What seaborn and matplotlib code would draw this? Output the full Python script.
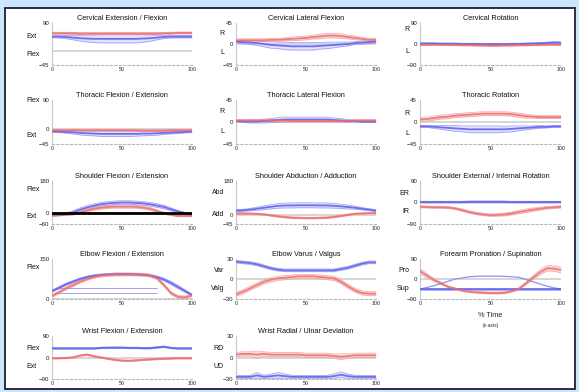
import numpy as np
import pandas as pd
import matplotlib
matplotlib.use("Agg")
import matplotlib.pyplot as plt
import seaborn as sns
from matplotlib.patches import Rectangle

sns.set_theme(style="white")
plt.rcParams['font.family'] = ['Liberation Sans', 'DejaVu Sans']

# ---------------- data ----------------
pct_time = [0, 5, 10, 15, 20, 25, 30, 35, 40, 45, 50, 55, 60, 65, 70, 75, 80, 85, 90, 95, 100]
x_ticks = [0, 50, 100]

cerv_ext_red = [57, 57, 57, 57, 56, 56, 56, 56, 56, 56, 56, 56, 56, 56, 56, 56, 57, 57, 58, 58, 58]
cerv_ext_red_sd = [3, 3, 3, 3, 3, 3, 3, 3, 3, 3, 3, 3, 3, 3, 3, 3, 3, 3, 3, 3, 3]
cerv_ext_blue = [46, 46, 45, 43, 41, 40, 39, 39, 39, 39, 39, 39, 39, 40, 41, 43, 45, 46, 46, 46, 46]
cerv_ext_blue_sd = [4, 4, 5, 7, 9, 11, 12, 13, 13, 13, 13, 13, 13, 12, 10, 7, 5, 4, 4, 4, 4]

cerv_lat_red = [8, 8, 8, 8, 8, 9, 9, 10, 11, 12, 13, 15, 16, 18, 18, 17, 15, 13, 11, 9, 9]
cerv_lat_red_sd = [3, 3, 3, 3, 3, 3, 3, 3, 4, 4, 4, 4, 5, 5, 5, 5, 4, 4, 3, 3, 3]
cerv_lat_blue = [5, 4, 3, 2, 0, -2, -3, -4, -5, -5, -5, -5, -4, -3, -2, -1, 0, 2, 3, 4, 5]
cerv_lat_blue_sd = [3, 3, 4, 5, 6, 7, 7, 8, 8, 8, 8, 8, 7, 7, 6, 5, 4, 3, 3, 3, 3]

cerv_rot_red = [-3, -3, -3, -3, -4, -4, -5, -5, -6, -6, -7, -7, -6, -6, -5, -5, -4, -4, -3, -3, -3]
cerv_rot_red_sd = [3, 3, 3, 3, 3, 3, 3, 3, 3, 3, 3, 3, 3, 3, 3, 3, 3, 3, 3, 3, 3]
cerv_rot_blue = [2, 2, 2, 1, 1, 1, 0, 0, 0, -1, -1, -1, -1, 0, 0, 1, 2, 3, 4, 6, 5]
cerv_rot_blue_sd = [3, 3, 3, 3, 3, 3, 3, 3, 3, 3, 3, 3, 3, 3, 3, 3, 3, 3, 4, 4, 4]

thor_flex_red = [-3, -3, -3, -3, -3, -3, -3, -3, -3, -3, -3, -3, -3, -4, -4, -4, -4, -3, -3, -3, -3]
thor_flex_red_sd = [2, 2, 2, 2, 2, 2, 2, 2, 2, 2, 2, 2, 2, 2, 2, 2, 2, 2, 2, 2, 2]
thor_flex_blue = [-6, -7, -8, -9, -11, -12, -13, -14, -14, -14, -14, -14, -14, -13, -13, -12, -11, -10, -9, -8, -7]
thor_flex_blue_sd = [3, 3, 4, 5, 6, 7, 7, 8, 8, 8, 8, 8, 7, 7, 6, 6, 5, 4, 4, 3, 3]

thor_lat_red = [3, 3, 3, 3, 3, 3, 3, 3, 2, 2, 2, 2, 2, 2, 2, 2, 2, 2, 3, 3, 3]
thor_lat_red_sd = [2, 2, 2, 2, 2, 2, 2, 2, 2, 2, 2, 2, 2, 2, 2, 2, 2, 2, 2, 2, 2]
thor_lat_blue = [2, 1, 1, 1, 2, 3, 4, 5, 5, 5, 5, 5, 5, 5, 4, 3, 2, 2, 1, 1, 1]
thor_lat_blue_sd = [2, 2, 3, 3, 4, 4, 5, 5, 5, 5, 5, 5, 5, 5, 4, 4, 3, 3, 2, 2, 2]

thor_rot_red = [5, 6, 8, 10, 11, 13, 14, 15, 16, 17, 17, 17, 17, 16, 14, 12, 11, 10, 10, 10, 10]
thor_rot_red_sd = [4, 4, 4, 4, 4, 4, 4, 4, 4, 4, 4, 4, 4, 4, 4, 4, 3, 3, 3, 3, 3]
thor_rot_blue = [-9, -9, -10, -11, -12, -13, -14, -15, -15, -15, -15, -15, -15, -14, -13, -12, -11, -10, -10, -9, -9]
thor_rot_blue_sd = [2, 2, 3, 4, 5, 6, 6, 7, 7, 7, 7, 7, 6, 6, 5, 4, 3, 3, 2, 2, 2]

sh_flex_red = [-12, -10, -8, -5, 5, 15, 25, 31, 35, 37, 37, 37, 36, 32, 25, 12, 0, -8, -15, -15, -15]
sh_flex_red_sd = [4, 4, 4, 5, 6, 7, 8, 8, 8, 8, 8, 8, 8, 8, 8, 7, 6, 5, 4, 4, 4]
sh_flex_blue = [-12, -10, -5, 5, 20, 32, 42, 50, 55, 58, 60, 60, 58, 55, 50, 43, 35, 22, 10, 0, -10]
sh_flex_blue_sd = [4, 5, 6, 8, 10, 10, 10, 10, 10, 10, 10, 10, 10, 10, 10, 10, 10, 8, 6, 5, 4]

sh_abd_red = [10, 10, 9, 8, 5, 0, -5, -9, -12, -13, -14, -14, -13, -12, -8, -3, 3, 8, 10, 12, 12]
sh_abd_red_sd = [4, 4, 4, 4, 4, 4, 4, 4, 4, 4, 4, 4, 4, 4, 4, 4, 4, 4, 4, 4, 4]
sh_abd_blue = [25, 27, 30, 35, 40, 45, 50, 52, 52, 53, 53, 53, 52, 52, 50, 47, 44, 40, 35, 30, 25]
sh_abd_blue_sd = [5, 5, 6, 8, 10, 11, 12, 13, 13, 13, 13, 13, 13, 13, 12, 11, 10, 8, 6, 5, 5]

sh_rot_red = [-18, -19, -20, -20, -21, -25, -32, -40, -46, -50, -53, -52, -50, -46, -40, -35, -30, -26, -22, -20, -18]
sh_rot_red_sd = [4, 4, 4, 4, 4, 4, 5, 5, 5, 5, 5, 5, 6, 6, 7, 7, 7, 6, 5, 5, 5]
sh_rot_blue = [2, 2, 2, 2, 2, 2, 2, 3, 3, 3, 3, 3, 3, 2, 2, 2, 2, 2, 2, 2, 2]
sh_rot_blue_sd = [3, 3, 3, 3, 3, 3, 3, 3, 3, 3, 3, 3, 3, 3, 3, 3, 3, 3, 3, 3, 3]

elb_flex_red = [12, 25, 40, 52, 65, 75, 83, 88, 90, 92, 92, 92, 92, 91, 88, 78, 52, 22, 8, 6, 14]
elb_flex_red_sd = [5, 5, 5, 5, 5, 5, 5, 5, 5, 5, 5, 5, 5, 5, 5, 5, 5, 5, 5, 5, 5]
elb_flex_blue = [30, 42, 55, 65, 75, 82, 87, 90, 92, 93, 93, 93, 92, 91, 88, 82, 73, 60, 45, 30, 15]
elb_flex_blue_sd = [4, 4, 4, 4, 4, 4, 4, 4, 4, 4, 4, 4, 4, 4, 4, 4, 5, 6, 6, 5, 4]
elb_flex_blue_ref_lines = [41, 24]
elb_flex_ref_span = [3, 75]

elb_var_red = [-23, -19, -14, -9, -4, -1, 1, 2, 3, 4, 4, 4, 3, 2, 1, -4, -11, -17, -21, -22, -22]
elb_var_red_sd = [3, 3, 3, 3, 3, 3, 3, 3, 3, 3, 3, 3, 3, 3, 3, 3, 3, 3, 3, 3, 3]
elb_var_blue = [26, 25, 24, 22, 19, 16, 14, 13, 13, 13, 13, 13, 13, 13, 13, 15, 17, 20, 23, 25, 25]
elb_var_blue_sd = [2, 2, 2, 2, 2, 2, 2, 2, 2, 2, 2, 2, 2, 2, 2, 2, 2, 2, 2, 2, 2]

fore_red = [35, 15, -5, -20, -35, -44, -52, -57, -60, -62, -63, -63, -62, -55, -45, -20, 5, 30, 48, 47, 40]
fore_red_sd = [12, 9, 6, 5, 4, 4, 4, 4, 4, 4, 4, 4, 4, 4, 5, 6, 8, 11, 12, 12, 12]
fore_blue = [-46, -46, -46, -46, -46, -46, -46, -46, -46, -46, -46, -46, -46, -46, -46, -46, -46, -46, -46, -46, -46]
fore_blue_sd = [2, 2, 2, 2, 2, 2, 2, 2, 2, 2, 2, 2, 2, 2, 2, 2, 2, 2, 2, 2, 2]
fore_blue_upper = [-45, -38, -30, -20, -10, 0, 5, 10, 12, 13, 13, 13, 12, 10, 8, -2, -12, -22, -32, -40, -45]

wr_flex_red = [-3, -3, -2, 0, 8, 12, 5, 0, -5, -10, -13, -14, -12, -10, -8, -6, -5, -4, -3, -3, -3]
wr_flex_red_sd = [3, 3, 3, 3, 3, 3, 3, 3, 3, 3, 3, 3, 3, 3, 3, 3, 3, 3, 3, 3, 3]
wr_flex_blue = [38, 38, 38, 38, 38, 38, 38, 40, 41, 41, 41, 40, 40, 39, 39, 42, 45, 40, 38, 38, 38]
wr_flex_blue_sd = [3, 3, 3, 3, 3, 3, 3, 3, 3, 3, 3, 3, 3, 3, 3, 3, 3, 3, 3, 3, 3]

wr_rad_red = [4, 5, 5, 4, 5, 4, 4, 4, 4, 4, 3, 3, 3, 3, 2, 1, 2, 3, 3, 3, 3]
wr_rad_red_sd = [3, 3, 3, 5, 3, 3, 3, 3, 3, 3, 3, 3, 3, 3, 3, 4, 3, 3, 3, 3, 3]
wr_rad_blue = [-27, -27, -27, -25, -27, -26, -25, -26, -27, -27, -27, -27, -27, -27, -26, -24, -26, -27, -27, -27, -27]
wr_rad_blue_sd = [2, 2, 2, 4, 2, 3, 4, 3, 2, 2, 2, 2, 2, 2, 3, 4, 3, 2, 2, 2, 2]

titles = ["Cervical Extension / Flexion", "Cervical Lateral Flexion", "Cervical Rotation",
          "Thoracic Flexion / Extension", "Thoracic Lateral Flexion", "Thoracic Rotation",
          "Shoulder Flexion / Extension", "Shoulder Abduction / Adduction", "Shoulder External / Internal Rotation",
          "Elbow Flexion / Extension", "Elbow Varus / Valgus", "Forearm Pronation / Supination",
          "Wrist Flexion / Extension", "Wrist Radial / Ulnar Deviation"]
y_limits = [(-45, 90), (-45, 45), (-90, 90),
            (-45, 90), (-45, 45), (-45, 45),
            (-60, 180), (-45, 180), (-90, 90),
            (0, 150), (-30, 30), (-90, 90),
            (-90, 90), (-30, 30)]
y_ticks = [[90, -45], [45, 0, -45], [90, 0, -90],
           [90, 0, -45], [45, 0, -45], [45, 0, -45],
           [180, 0, -60], [180, 0, -45], [90, 0, -90],
           [150, 0], [30, 0, -30], [90, 0, -90],
           [90, 0, -90], [30, 0, -30]]
side_labels = [[("Ext", 0.67), ("Flex", 0.26)], [("R", 0.76), ("L", 0.29)], [("R", 0.85), ("L", 0.32)],
               [("Flex", 1.0), ("Ext", 0.2)], [("R", 0.73), ("L", 0.28)], [("R", 0.7), ("L", 0.24)],
               [("Flex", 0.81), ("Ext", 0.17)], [("Abd", 0.73), ("Add", 0.23)], [("ER", 0.72), ("IR", 0.29)],
               [("Flex", 0.78)], [("Var", 0.7), ("Valg", 0.27)], [("Pro", 0.7), ("Sup", 0.25)],
               [("Flex", 0.7), ("Ext", 0.28)], [("RD", 0.7), ("UD", 0.28)]]
red_series = [(cerv_ext_red, cerv_ext_red_sd), (cerv_lat_red, cerv_lat_red_sd), (cerv_rot_red, cerv_rot_red_sd),
              (thor_flex_red, thor_flex_red_sd), (thor_lat_red, thor_lat_red_sd), (thor_rot_red, thor_rot_red_sd),
              (sh_flex_red, sh_flex_red_sd), (sh_abd_red, sh_abd_red_sd), (sh_rot_red, sh_rot_red_sd),
              (elb_flex_red, elb_flex_red_sd), (elb_var_red, elb_var_red_sd), (fore_red, fore_red_sd),
              (wr_flex_red, wr_flex_red_sd), (wr_rad_red, wr_rad_red_sd)]
blue_series = [(cerv_ext_blue, cerv_ext_blue_sd), (cerv_lat_blue, cerv_lat_blue_sd), (cerv_rot_blue, cerv_rot_blue_sd),
               (thor_flex_blue, thor_flex_blue_sd), (thor_lat_blue, thor_lat_blue_sd), (thor_rot_blue, thor_rot_blue_sd),
               (sh_flex_blue, sh_flex_blue_sd), (sh_abd_blue, sh_abd_blue_sd), (sh_rot_blue, sh_rot_blue_sd),
               (elb_flex_blue, elb_flex_blue_sd), (elb_var_blue, elb_var_blue_sd), (fore_blue, fore_blue_sd),
               (wr_flex_blue, wr_flex_blue_sd), (wr_rad_blue, wr_rad_blue_sd)]

# ---------------- layout ----------------
W, H = 579, 392
fig = plt.figure(figsize=(W / 100, H / 100), dpi=100)
fig.patch.set_facecolor('#cde7fa')
fig.patches.append(Rectangle((5 / W, 1 - 389 / H), 570 / W, 381 / H, transform=fig.transFigure,
                             facecolor='white', edgecolor='#1c1c3a', lw=1.3, zorder=-5))

col_lr = [(52, 192), (236, 376), (420, 561)]
row_tb = [(23, 65), (100, 144), (181, 224), (259, 299), (336, 379)]
label_x = [(-0.185, 'left'), (-0.085, 'right'), (-0.075, 'right')]

RED, RED_EDGE, RED_FILL = '#ee6a6a', '#f29a9a', '#f8c8c8'
BLUE, BLUE_EDGE, BLUE_FILL = '#5a5aee', '#9090f0', '#d0d0fa'
x = np.array(pct_time, dtype=float)

for i, title in enumerate(titles):
    r, c = divmod(i, 3)
    l, rr = col_lr[c]
    t, b = row_tb[r]
    ax = fig.add_axes([l / W, 1 - b / H, (rr - l) / W, (b - t) / H])
    ax.set_facecolor('white')
    lo_y, hi_y = y_limits[i]
    ax.axhline(0, color='#cfcfcf', lw=1.2, zorder=1)

    for (mean, sd), edge, fill in [(blue_series[i], BLUE_EDGE, BLUE_FILL), (red_series[i], RED_EDGE, RED_FILL)]:
        m = np.array(mean, dtype=float)
        s = np.array(sd, dtype=float)
        ax.fill_between(x, m - s, m + s, color=fill, alpha=0.6, lw=0, zorder=2)
        ax.plot(x, m - s, color=edge, lw=0.6, alpha=0.8, zorder=2)
        ax.plot(x, m + s, color=edge, lw=0.6, alpha=0.8, zorder=2)
    if i == 11:
        ax.plot(x, fore_blue_upper, color=BLUE_EDGE, lw=0.9, zorder=2)
    if i == 9:
        ax.hlines(elb_flex_blue_ref_lines, elb_flex_ref_span[0], elb_flex_ref_span[1],
                  color=BLUE_EDGE, lw=0.6, zorder=2)

    df = pd.DataFrame({
        "time": list(pct_time) * 2,
        "angle": list(blue_series[i][0]) + list(red_series[i][0]),
        "group": ["blue"] * len(pct_time) + ["red"] * len(pct_time),
    })
    sns.lineplot(data=df, x="time", y="angle", hue="group", palette={"blue": BLUE, "red": RED},
                 ax=ax, legend=False, lw=1.3, alpha=0.85, zorder=3)
    if i == 6:
        ax.axhline(0, color='black', lw=2.0, zorder=4)

    ax.set_xlim(0, 100)
    ax.set_ylim(lo_y, hi_y)
    ax.set_xticks(x_ticks)
    ax.set_yticks(y_ticks[i])
    ax.set_xlabel("")
    ax.set_ylabel("")
    ax.tick_params(axis='x', length=0, labelsize=3.8, pad=1.5, colors='#222222')
    ax.tick_params(axis='y', length=0, labelsize=4.4, pad=2, colors='#222222')
    for sp in ['top', 'right']:
        ax.spines[sp].set_visible(False)
    ax.spines['left'].set_color('#c8c8c8')
    ax.spines['left'].set_linewidth(0.8)
    ax.spines['bottom'].set_color('#b8b8b8')
    ax.spines['bottom'].set_linestyle((0, (2, 2)))
    ax.spines['bottom'].set_linewidth(0.8)
    ax.set_title(title, fontsize=5.3, pad=2.5, color='#111111')
    lx, ha = label_x[c]
    for txt, fy in side_labels[i]:
        ax.text(lx, fy, txt, transform=ax.transAxes, ha=ha, va='center', fontsize=5.0, color='#111111')
    if i == 11:
        ax.text(0.5, -0.42, "% Time", transform=ax.transAxes, ha='center', va='center', fontsize=5.3)
        ax.text(0.5, -0.66, "(x-axis)", transform=ax.transAxes, ha='center', va='center', fontsize=3.5)

fig.savefig("out.png", dpi=100, facecolor=fig.get_facecolor())
